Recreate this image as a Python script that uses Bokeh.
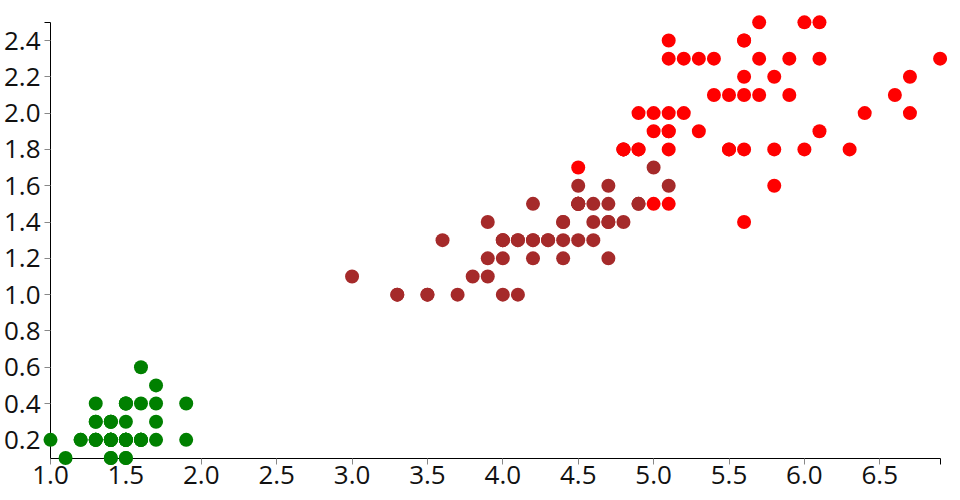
from bokeh.plotting import figure
from bokeh.models import Range1d, FixedTicker, NumeralTickFormatter, ColumnDataSource, LinearAxis
from bokeh.embed import file_html
from bokeh.resources import INLINE

# Iris petal measurements (length, width)
setosa_len = [1.4,1.4,1.3,1.5,1.4,1.7,1.4,1.5,1.4,1.5,1.5,1.6,1.4,1.1,1.2,1.5,1.3,1.4,1.7,1.5,
              1.7,1.5,1.0,1.7,1.9,1.6,1.6,1.5,1.4,1.6,1.6,1.5,1.5,1.4,1.5,1.2,1.3,1.4,1.3,1.5,
              1.3,1.3,1.3,1.6,1.9,1.4,1.6,1.4,1.5,1.4]
setosa_wid = [0.2,0.2,0.2,0.2,0.2,0.4,0.3,0.2,0.2,0.1,0.2,0.2,0.1,0.1,0.2,0.4,0.4,0.3,0.3,0.3,
              0.2,0.4,0.2,0.5,0.2,0.2,0.4,0.2,0.2,0.2,0.2,0.4,0.1,0.2,0.2,0.2,0.2,0.1,0.2,0.2,
              0.3,0.3,0.2,0.6,0.4,0.3,0.2,0.2,0.2,0.2]
versicolor_len = [4.7,4.5,4.9,4.0,4.6,4.5,4.7,3.3,4.6,3.9,3.5,4.2,4.0,4.7,3.6,4.4,4.5,4.1,4.5,3.9,
                  4.8,4.0,4.9,4.7,4.3,4.4,4.8,5.0,4.5,3.5,3.8,3.7,3.9,5.1,4.5,4.5,4.7,4.4,4.1,4.0,
                  4.4,4.6,4.0,3.3,4.2,4.2,4.2,4.3,3.0,4.1]
versicolor_wid = [1.4,1.5,1.5,1.3,1.5,1.3,1.6,1.0,1.3,1.4,1.0,1.5,1.0,1.4,1.3,1.4,1.5,1.0,1.5,1.1,
                  1.8,1.3,1.5,1.2,1.3,1.4,1.4,1.7,1.5,1.0,1.1,1.0,1.2,1.6,1.5,1.6,1.5,1.3,1.3,1.3,
                  1.2,1.4,1.2,1.0,1.3,1.2,1.3,1.3,1.1,1.3]
virginica_len = [6.0,5.1,5.9,5.6,5.8,6.6,4.5,6.3,5.8,6.1,5.1,5.3,5.5,5.0,5.1,5.3,5.5,6.7,6.9,5.0,
                 5.7,4.9,6.7,4.9,5.7,6.0,4.8,4.9,5.6,5.8,6.1,6.4,5.6,5.1,5.6,6.1,5.6,5.5,4.8,5.4,
                 5.6,5.1,5.1,5.9,5.7,5.2,5.0,5.2,5.4,5.1]
virginica_wid = [2.5,1.9,2.1,1.8,2.2,2.1,1.7,1.8,1.8,2.5,2.0,1.9,2.1,2.0,2.4,2.3,1.8,2.2,2.3,1.5,
                 2.3,2.0,2.0,1.8,2.1,1.8,1.8,1.8,2.1,1.6,1.9,2.0,2.2,1.5,1.4,2.3,2.4,1.8,1.8,2.1,
                 2.4,2.3,1.9,2.3,2.5,2.3,1.9,2.0,2.3,1.8]

species_colors = ["green", "brown", "red"]
x_ticks = [1.0, 1.5, 2.0, 2.5, 3.0, 3.5, 4.0, 4.5, 5.0, 5.5, 6.0, 6.5]
y_ticks = [0.2, 0.4, 0.6, 0.8, 1.0, 1.2, 1.4, 1.6, 1.8, 2.0, 2.2, 2.4]
x_domain = [1.0, 6.9]
y_domain = [0.1, 2.5]

# layout (pixels)
W, H = 960, 500
fl, fr, ft, fb = 43, 947, 14, 465          # frame edges
x0_px, x1_px = 50, 939.6                    # domain ends
y1_px, y0_px = 21.85, 457.5
sx = (x1_px - x0_px) / (x_domain[1] - x_domain[0])
sy = (y0_px - y1_px) / (y_domain[1] - y_domain[0])
xr = Range1d(x_domain[0] - (x0_px - fl) / sx, x_domain[1] + (fr - x1_px) / sx)
yr = Range1d(y_domain[0] - (fb - y0_px) / sy, y_domain[1] + (y1_px - ft) / sy)

p = figure(width=W, height=H, x_range=xr, y_range=yr, output_backend="svg",
           toolbar_location=None, min_border_left=fl, min_border_right=W - fr,
           min_border_top=ft, min_border_bottom=H - fb)
p.grid.visible = False
p.outline_line_color = None
p.background_fill_color = "white"
p.border_fill_color = "white"

for xs, ys, c in [(setosa_len, setosa_wid, species_colors[0]),
                  (versicolor_len, versicolor_wid, species_colors[1]),
                  (virginica_len, virginica_wid, species_colors[2])]:
    src = ColumnDataSource(dict(x=xs, y=ys))
    p.scatter("x", "y", source=src, size=14, fill_color=c, line_color=None, level="overlay")

FONT = "Open Sans"
# axis lines + ticks placed at the data domain
for ax, ticks, loc, bnds, minor in [(p.xaxis[0], x_ticks, y_domain[0], x_domain, [x_domain[1]]),
                                     (p.yaxis[0], y_ticks, x_domain[0], y_domain, [y_domain[1]])]:
    ax.ticker = FixedTicker(ticks=ticks, minor_ticks=minor)
    ax.fixed_location = loc
    ax.bounds = tuple(bnds)
    ax.axis_line_color = "black"
    ax.axis_line_width = 1
    ax.major_tick_line_color = "#888888"
    ax.major_tick_out = 6
    ax.major_tick_in = 0
    ax.minor_tick_line_color = "black"
    ax.minor_tick_out = 6
    ax.minor_tick_in = 0
    ax.major_label_text_font_size = "0px"
    ax.major_label_text_alpha = 0

# label-only axes in the side panels
xl = LinearAxis(ticker=FixedTicker(ticks=x_ticks), formatter=NumeralTickFormatter(format="0.0"))
yl = LinearAxis(ticker=FixedTicker(ticks=y_ticks), formatter=NumeralTickFormatter(format="0.0"))
for ax in (xl, yl):
    ax.axis_line_color = None
    ax.major_tick_line_color = None
    ax.minor_tick_line_color = None
    ax.major_tick_out = 0
    ax.major_tick_in = 0
    ax.minor_tick_out = 0
    ax.minor_tick_in = 0
    ax.major_label_text_font = FONT
    ax.major_label_text_font_size = "26px"
    ax.major_label_text_color = "#111111"
xl.major_label_standoff = 0
yl.major_label_standoff = 3
p.add_layout(xl, "below")
p.add_layout(yl, "left")

open("out.html", "w").write(file_html(p, INLINE))
